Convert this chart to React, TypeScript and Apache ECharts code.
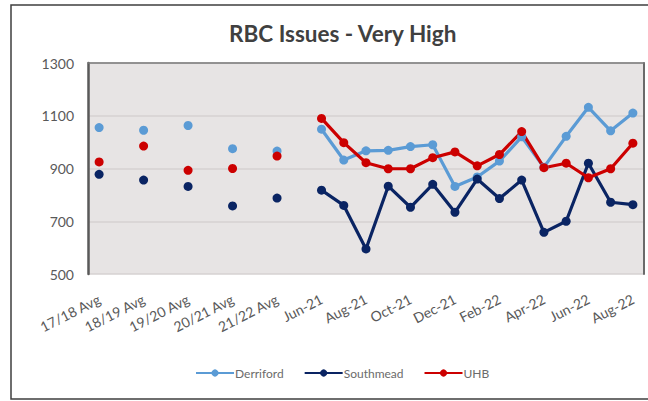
import React, { useEffect, useRef } from "react";
import * as echarts from "echarts";

const avgLabels = ["17/18 Avg", "18/19 Avg", "19/20 Avg", "20/21 Avg", "21/22 Avg"];
const monthLabels = [
  "Jun-21", "Jul-21", "Aug-21", "Sep-21", "Oct-21", "Nov-21", "Dec-21",
  "Jan-22", "Feb-22", "Mar-22", "Apr-22", "May-22", "Jun-22", "Jul-22", "Aug-22",
];

const derrifordAvg = [1055, 1045, 1063, 975, 966];
const southmeadAvg = [878, 856, 832, 758, 788];
const uhbAvg = [925, 985, 893, 900, 947];

const derrifordMonthly = [1049, 932, 967, 969, 983, 990, 832, 868, 928, 1020, 905, 1022, 1132, 1043, 1110];
const southmeadMonthly = [818, 760, 595, 833, 753, 840, 734, 860, 786, 856, 658, 700, 920, 772, 763];
const uhbMonthly = [1090, 998, 922, 899, 899, 941, 963, 910, 953, 1040, 903, 920, 865, 899, 996];

const yTicks = { min: 500, max: 1300, interval: 200 };

// Averages are separated by empty categories (as in the source sheet)
const categories: string[] = [];
avgLabels.forEach((l) => {
  categories.push(l);
  categories.push("");
});
monthLabels.forEach((l) => categories.push(l));

function build(avg: number[], monthly: number[]) {
  const out: (number | null)[] = [];
  avg.forEach((v) => {
    out.push(v);
    out.push(null);
  });
  monthly.forEach((v) => out.push(v));
  return out;
}

const FONT = "Lato";
const TXT = "#595959";

export default function App() {
  const ref = useRef<HTMLDivElement>(null);
  useEffect(() => {
    if (!ref.current) return;
    const chart = echarts.init(ref.current, null, { renderer: "svg" });
    const mk = (name: string, color: string, data: (number | null)[]) => ({
      name,
      type: "line",
      data,
      connectNulls: false,
      symbol: "circle",
      symbolSize: 9,
      showSymbol: true,
      lineStyle: { color, width: 3.2 },
      itemStyle: { color },
      emphasis: { disabled: true },
      xAxisIndex: 0,
      yAxisIndex: 0,
    });
    chart.setOption({
      animation: false,
      backgroundColor: "#ffffff",
      title: {
        text: "RBC Issues - Very High",
        left: 224,
        top: 17,
        textStyle: { fontFamily: FONT, fontWeight: "bold", fontSize: 22.5, color: "#404040" },
      },
      graphic: [
        {
          type: "rect",
          shape: { x: 11, y: 5, width: 660, height: 394 },
          style: { fill: "none", stroke: "#3f3f3f", lineWidth: 1.5 },
          silent: true,
          z: 0,
        },
      ],
      legend: {
        left: 190,
        top: 362,
        itemWidth: 38,
        itemHeight: 9,
        itemGap: 20,
        textStyle: { fontFamily: FONT, fontSize: 12, color: "#6b6b6b", padding: [0, 0, 0, -4] },
        data: ["Derriford", "Southmead", "UHB"],
      },
      grid: {
        left: 88,
        right: 4,
        top: 63,
        bottom: 127,
        show: true,
        backgroundColor: "#e7e4e4",
        borderWidth: 0,
      },
      xAxis: [
        {
          type: "category",
          data: categories,
          boundaryGap: true,
          axisLine: { show: false },
          axisTick: { show: false },
          splitLine: { show: false },
          axisLabel: {
            interval: 1,
            rotate: 27,
            margin: 24,
            fontFamily: FONT,
            fontSize: 14,
            color: TXT,
          },
        },
        {
          type: "category",
          position: "top",
          data: categories,
          axisLine: { show: true, lineStyle: { color: "#7a7a7a", width: 1.5 } },
          axisTick: { show: false },
          axisLabel: { show: false },
          splitLine: { show: false },
        },
      ],
      yAxis: [
        {
          type: "value",
          min: yTicks.min,
          max: yTicks.max,
          interval: yTicks.interval,
          axisLine: { show: true, lineStyle: { color: "#595959", width: 2.5 } },
          axisTick: { show: false },
          splitLine: { show: true, lineStyle: { color: "#d6d2d2", width: 1.5 } },
          axisLabel: {
            fontFamily: FONT,
            fontSize: 14,
            color: TXT,
            margin: 14,
            formatter: (v: number) => String(v),
          },
        },
        {
          type: "value",
          position: "right",
          min: yTicks.min,
          max: yTicks.max,
          interval: yTicks.interval,
          axisLine: { show: true, lineStyle: { color: "#6a6a6a", width: 2 } },
          axisTick: { show: false },
          axisLabel: { show: false },
          splitLine: { show: false },
        },
      ],
      series: [
        mk("Derriford", "#5b9bd5", build(derrifordAvg, derrifordMonthly)),
        mk("Southmead", "#0a2463", build(southmeadAvg, southmeadMonthly)),
        mk("UHB", "#cc0000", build(uhbAvg, uhbMonthly)),
      ],
    });
    return () => chart.dispose();
  }, []);
  return (
    <div
      ref={ref}
      style={{ position: "fixed", left: 0, top: 0, width: 648, height: 401 }}
    />
  );
}
